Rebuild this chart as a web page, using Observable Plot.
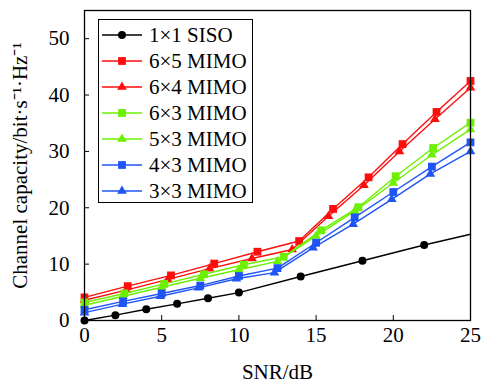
<!DOCTYPE html>
<html><head><meta charset="utf-8">
<script src="https://cdn.jsdelivr.net/npm/d3@7"></script>
<script src="https://cdn.jsdelivr.net/npm/@observablehq/plot@0.6"></script>
<style>
body{margin:0;background:#fff;}
#wrap{position:relative;width:482px;height:382px;font-family:"Liberation Serif","Times New Roman",serif;}
#wrap svg text{font-family:"Liberation Serif","Times New Roman",serif;}
#legend{position:absolute;left:98px;top:19px;width:153px;height:182px;border:1.5px solid #000;background:#fff;}
</style></head><body><div id="wrap"></div>
<script>
// ---- data ----
const seriesNames = ["1×1 SISO","6×5 MIMO","6×4 MIMO","6×3 MIMO","5×3 MIMO","4×3 MIMO","3×3 MIMO"];
const seriesColors = ["#000000","#ff0d0d","#ff0d0d","#6cf000","#6cf000","#1f55f5","#1f55f5"];
const seriesSymbols = ["circle","square","triangle","square","triangle","square","triangle"];

const snr_siso = [0,2,4,6,8,10,14,18,22,25];
const cap_siso = [0,0.95,2.0,2.95,3.95,4.95,7.8,10.6,13.4,15.3];
const snr_6x5 = [0,2.8,5.6,8.4,11.2,13.9,16.1,18.4,20.6,22.8,25];
const cap_6x5 = [4.1,6.1,8.0,10.1,12.2,14.1,19.8,25.4,31.3,37.0,42.5];
const snr_6x4 = [0,2.7,5.4,8.1,10.85,13.45,15.8,18.1,20.4,22.7,25];
const cap_6x4 = [3.6,5.4,7.3,9.2,11.0,12.6,18.5,24.0,30.0,35.7,41.3];
const snr_6x3 = [0,2.58,5.16,7.74,10.32,12.9,15.32,17.74,20.16,22.58,25];
const cap_6x3 = [3.2,4.8,6.5,8.2,9.9,11.3,16.0,20.1,25.6,30.6,35.1];
const snr_5x3 = [0,2.5,5,7.5,10,12.5,15,17.5,20,22.5,25];
const cap_5x3 = [2.7,4.3,5.9,7.5,9.0,10.5,15.0,19.4,24.4,29.4,33.9];
const snr_4x3 = [0,2.5,5,7.5,10,12.5,15,17.5,20,22.5,25];
const cap_4x3 = [1.9,3.4,4.8,6.2,7.9,9.3,13.8,18.3,22.8,27.3,31.6];
const snr_3x3 = [0,2.46,4.92,7.38,9.84,12.3,14.8,17.4,19.9,22.4,25];
const cap_3x3 = [1.4,2.9,4.3,5.8,7.4,8.5,12.9,17.1,21.5,26.0,30.0];

const xTicks = [0,5,10,15,20,25];
const yTicks = [0,10,20,30,40,50];
const xLabel = "SNR/dB";
const yLabel = "Channel capacity/bit·s⁻¹·Hz⁻¹";

const seriesX = [snr_siso,snr_6x5,snr_6x4,snr_6x3,snr_5x3,snr_4x3,snr_3x3];
const seriesY = [cap_siso,cap_6x5,cap_6x4,cap_6x3,cap_5x3,cap_4x3,cap_3x3];
// SISO curve: last point (25 dB) drawn as line only, no marker
const markerSkipLast = [true,false,false,false,false,false,false];

const symR = {circle:4, square:4.4, triangle:3.6};
const FONT = "Liberation Serif";

const marks = [];
seriesNames.forEach((name,i)=>{
  const rows = seriesX[i].map((x,j)=>({snr:x, cap:seriesY[i][j]}));
  marks.push(Plot.line(rows,{x:"snr",y:"cap",stroke:seriesColors[i],strokeWidth:1.4}));
  const dots = markerSkipLast[i] ? rows.slice(0,-1) : rows;
  marks.push(Plot.dot(dots,{x:"snr",y:"cap",fill:seriesColors[i],stroke:"none",symbol:seriesSymbols[i],r:symR[seriesSymbols[i]]}));
});

const chart = Plot.plot({
  width:482, height:382,
  marginLeft:84, marginRight:12, marginTop:10, marginBottom:62,
  style:{fontFamily:FONT, fontSize:"20px", background:"#fff", color:"#000", overflow:"visible"},
  x:{domain:[0,25]},
  y:{domain:[0,55]},
  marks:[
    ...marks,
    Plot.axisX({ticks:xTicks, tickSize:-5, tickPadding:12, label:xLabel, labelArrow:"none", labelAnchor:"center", labelOffset:58, fontSize:21, fontFamily:FONT}),
    Plot.axisY({ticks:yTicks, tickSize:-5, tickPadding:20, label:yLabel, labelArrow:"none", labelAnchor:"center", labelOffset:72, fontSize:21, fontFamily:FONT}),
    Plot.frame({stroke:"#000", strokeWidth:1.3})
  ]
});
const wrap = document.getElementById("wrap");
wrap.appendChild(chart);

// ---- legend (inside plot area, upper left) ----
const leg = d3.select(wrap).append("div").attr("id","legend");
const lsvg = leg.append("svg").attr("width",153).attr("height",182).style("display","block");
seriesNames.forEach((name,i)=>{
  const g = lsvg.append("g").attr("transform",`translate(0,${15+i*26})`);
  g.append("line").attr("x1",3).attr("x2",43).attr("y1",0).attr("y2",0)
    .attr("stroke",seriesColors[i]).attr("stroke-width",1.4);
  const sym = {circle:d3.symbolCircle,square:d3.symbolSquare,triangle:d3.symbolTriangle}[seriesSymbols[i]];
  const r = symR[seriesSymbols[i]];
  g.append("path").attr("d",d3.symbol(sym, Math.PI*r*r)()).attr("transform","translate(23,0)").attr("fill",seriesColors[i]);
  g.append("text").attr("x",50).attr("y",0).attr("dy","0.35em")
    .style("font-family",FONT).style("font-size","21px").text(name);
});
</script>
</body></html>
